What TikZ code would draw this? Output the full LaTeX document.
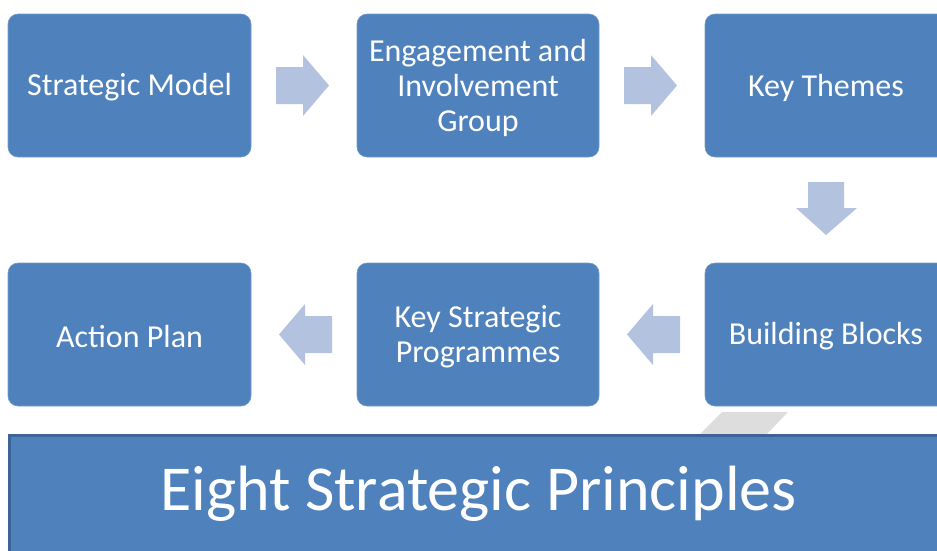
\documentclass[tikz,border=0pt]{standalone}
\usepackage{fontspec}
\setmainfont{Carlito}
\definecolor{boxblue}{HTML}{4F81BD}
\definecolor{edgeblue}{HTML}{3C6494}
\definecolor{arrowblue}{HTML}{B3C3DF}
\definecolor{shadowgrey}{HTML}{DDDDDD}
\begin{document}
\begin{tikzpicture}[x=1pt,y=-1pt,
  stepbox/.style={fill=boxblue,draw=boxblue!80!white,line width=0.6pt,rounded corners=10pt,
    text=white,align=center,font=\fontsize{32}{35}\selectfont,inner sep=0pt},
  flowarrow/.style={fill=arrowblue,draw=none}]
\useasboundingbox (0,0) rectangle (937,550);
\begin{scope}
\clip (0,0) rectangle (937,550);
% grey shadow
\fill[shadowgrey] (722,412) -- (788,412) -- (767,434) -- (700,434) -- cycle;
% boxes
\draw[stepbox] (8,14) rectangle (251,157);
\draw[stepbox] (357,14) rectangle (599,157);
\draw[stepbox] (705,14) rectangle (955,157);
\draw[stepbox] (8,263) rectangle (251,406);
\draw[stepbox] (357,263) rectangle (599,406);
\draw[stepbox] (705,263) rectangle (955,406);
\node[stepbox,draw=none,fill=none] (sm) at (129.5,87.5) {Strategic Model};
\node[stepbox,draw=none,fill=none] (eg) at (478,87.5) {Engagement and\\Involvement\\Group};
\node[stepbox,draw=none,fill=none] (kt) at (826,87.5) {Key Themes};
\node[stepbox,draw=none,fill=none] (ap) at (129.5,336.5) {Action Plan};
\node[stepbox,draw=none,fill=none] (ksp) at (478,336.5) {Key Strategic\\Programmes};
\node[stepbox,draw=none,fill=none] (bb) at (826,336.5) {Building Blocks};
% bottom band
\fill[boxblue] (8,434) rectangle (960,560);
\draw[edgeblue,line width=3pt] (9.5,560) -- (9.5,435.5) -- (960,435.5);
\node[text=white,font=\fontsize{64}{70}\selectfont] (esp) at (478.5,494) {Eight Strategic Principles};
% arrows
\fill[flowarrow] (276,67) -- (303,67) -- (303,55) -- (329,85.5) -- (303,116) -- (303,104) -- (276,104) -- cycle;
\fill[flowarrow] (624,67) -- (651,67) -- (651,55) -- (677,85.5) -- (651,116) -- (651,104) -- (624,104) -- cycle;
\fill[flowarrow] (808,182) -- (844,182) -- (844,208) -- (857,208) -- (826,235) -- (796,208) -- (808,208) -- cycle;
\fill[flowarrow] (680,316) -- (653,316) -- (653,304) -- (627,334.5) -- (653,365) -- (653,353) -- (680,353) -- cycle;
\fill[flowarrow] (332,316) -- (305,316) -- (305,304) -- (279,334.5) -- (305,365) -- (305,353) -- (332,353) -- cycle;
\end{scope}
\end{tikzpicture}
\end{document}
